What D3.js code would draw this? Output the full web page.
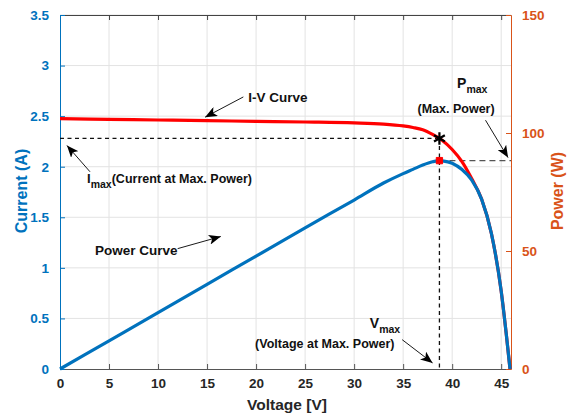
<!DOCTYPE html>
<html><head><meta charset="utf-8">
<script src="https://cdn.jsdelivr.net/npm/d3@7"></script>
<style>
body{margin:0;background:#fff;}
text{font-family:"Liberation Sans",Arial,sans-serif;font-weight:bold;}
</style></head>
<body><svg id="c" width="573" height="418"></svg>
<script>
// ---- data ----
const voltage = [0,5,10,15,20,25,30,33,35,36,37,38,38.7,39,40,41,42,43,44,45,45.5,45.9];
const current = [2.475,2.468,2.462,2.455,2.449,2.442,2.433,2.421,2.403,2.388,2.366,2.32,2.28,2.26,2.17,2.05,1.88,1.68,1.34,0.77,0.36,0];
const power   = [0,11.95,23.9,35.9,47.8,59.8,71.6,78.8,82.8,84.6,86.4,87.8,88.3,88.2,87.2,84.5,80.0,72.0,57.5,33.0,15.5,0];
const xTicks = [0,5,10,15,20,25,30,35,40,45];
const yTicks = [0,0.5,1,1.5,2,2.5,3,3.5];
const y2Ticks = [0,50,100,150];
const vMax = 38.7, iMax = 2.28, pMax = 88.3;

const W=573,H=418, m={l:60,r:62,t:15,b:49};
const svg=d3.select("#c");
const x=d3.scaleLinear().domain([0,46]).range([m.l,W-m.r]);
const y=d3.scaleLinear().domain([0,3.5]).range([H-m.b,m.t]);
const y2=d3.scaleLinear().domain([0,150]).range([H-m.b,m.t]);
const blue="#0072BD", orange="#D95319";
const fmt=d3.format("~g");

// grid
const g=svg.append("g");
g.selectAll(".gx").data(xTicks.slice(1)).join("line")
  .attr("x1",d=>x(d)).attr("x2",d=>x(d)).attr("y1",y(0)).attr("y2",y(3.5))
  .attr("stroke","#e3e3e3").attr("stroke-width",1);
g.selectAll(".gy").data(yTicks.slice(1)).join("line")
  .attr("y1",d=>y(d)).attr("y2",d=>y(d)).attr("x1",x(0)).attr("x2",x(46))
  .attr("stroke","#e3e3e3").attr("stroke-width",1);

// axes
const ax=d3.axisBottom(x).tickValues(xTicks).tickFormat(fmt).tickSizeInner(-5).tickSizeOuter(0).tickPadding(9);
const axG=svg.append("g").attr("transform",`translate(0,${y(0)})`).call(ax);
axG.select(".domain").attr("stroke","#555");
axG.selectAll(".tick line").attr("stroke","#555");
axG.selectAll("text").attr("fill","#262626").attr("font-size",13.5);

const axT=d3.axisTop(x).tickValues(xTicks).tickSizeInner(-5).tickSizeOuter(0).tickFormat("");
const atG=svg.append("g").attr("transform",`translate(0,${y(3.5)})`).call(axT);
atG.select(".domain").attr("stroke","#444");
atG.selectAll(".tick line").attr("stroke","#444");

const ay=d3.axisLeft(y).tickValues(yTicks).tickFormat(fmt).tickSizeInner(-5).tickSizeOuter(0).tickPadding(11);
const ayG=svg.append("g").attr("transform",`translate(${x(0)},0)`).call(ay);
ayG.select(".domain").attr("stroke",blue);
ayG.selectAll(".tick line").attr("stroke",blue);
ayG.selectAll("text").attr("fill",blue).attr("font-size",13.5);

const ay2=d3.axisRight(y2).tickValues(y2Ticks).tickFormat(fmt).tickSizeInner(-5).tickSizeOuter(0).tickPadding(11);
const ay2G=svg.append("g").attr("transform",`translate(${x(46)},0)`).call(ay2);
ay2G.select(".domain").attr("stroke",orange);
ay2G.selectAll(".tick line").attr("stroke",orange);
ay2G.selectAll("text").attr("fill",orange).attr("font-size",13.5);

// axis titles
svg.append("text").attr("transform",`translate(27,191) rotate(-90)`).attr("text-anchor","middle")
  .attr("fill",blue).attr("font-size",16).text("Current (A)");
svg.append("text").attr("transform",`translate(563,191) rotate(-90)`).attr("text-anchor","middle")
  .attr("fill",orange).attr("font-size",16).text("Power (W)");
svg.append("text").attr("x",287).attr("y",410).attr("text-anchor","middle")
  .attr("fill","#262626").attr("font-size",15.5).text("Voltage [V]");

// dashed guides
svg.append("line").attr("x1",x(0)).attr("x2",x(vMax)).attr("y1",y(iMax)).attr("y2",y(iMax))
  .attr("stroke","#111").attr("stroke-width",1.3).attr("stroke-dasharray","4,3.5");
svg.append("line").attr("x1",x(vMax)).attr("x2",x(vMax)).attr("y1",y(iMax)).attr("y2",y(0))
  .attr("stroke","#111").attr("stroke-width",1.3).attr("stroke-dasharray","4,3.5");
svg.append("line").attr("x1",x(vMax)).attr("x2",x(46)).attr("y1",y2(pMax)).attr("y2",y2(pMax))
  .attr("stroke","#555").attr("stroke-width",1.1).attr("stroke-dasharray","6,4");

// curves
const pts=voltage.map((v,i)=>({v,i:current[i],p:power[i]}));
svg.append("path").datum(pts).attr("fill","none").attr("stroke","#ff0000").attr("stroke-width",3.2)
  .attr("d",d3.line().x(d=>x(d.v)).y(d=>y(d.i)).curve(d3.curveMonotoneX));
svg.append("path").datum(pts).attr("fill","none").attr("stroke",blue).attr("stroke-width",3.2)
  .attr("d",d3.line().x(d=>x(d.v)).y(d=>y2(d.p)).curve(d3.curveMonotoneX));

// markers
svg.append("path").attr("transform",`translate(${x(vMax)},${y(iMax)})`)
  .attr("d",d3.symbol().type(d3.symbolAsterisk).size(110)()).attr("stroke","#000").attr("stroke-width",2.2).attr("fill","none");
svg.append("path").attr("transform",`translate(${x(vMax)},${y2(pMax)})`)
  .attr("d",d3.symbol().type(d3.symbolSquare).size(40)()).attr("fill","#f00").attr("stroke","#f00").attr("stroke-width",1);

// arrows
const defs=svg.append("defs");
defs.append("marker").attr("id","ah").attr("viewBox","0 0 12 10").attr("refX",12).attr("refY",5)
  .attr("markerWidth",12).attr("markerHeight",10).attr("markerUnits","userSpaceOnUse").attr("orient","auto")
  .append("path").attr("d","M0,0 L12,5 L0,10 L3,5 Z").attr("fill","#000");
const arrows=[
  {from:[18.7,2.69],to:[14.8,2.49]},
  {from:[43.4,2.46],to:[45.7,2.09]},
  {from:[3.06,1.95],to:[0.71,2.21]},
  {from:[12.0,1.19],to:[16.4,1.31]},
  {from:[34.9,0.29],to:[38.0,0.06]}
];
svg.selectAll(".arr").data(arrows).join("line")
  .attr("x1",d=>x(d.from[0])).attr("y1",d=>y(d.from[1]))
  .attr("x2",d=>x(d.to[0])).attr("y2",d=>y(d.to[1]))
  .attr("stroke","#000").attr("stroke-width",0.9).attr("marker-end","url(#ah)");

// labels
function lab(vx,vy,txt,size,anchor){
  return svg.append("text").attr("x",x(vx)).attr("y",y(vy)).attr("font-size",size)
    .attr("text-anchor",anchor||"start").attr("fill","#111").text(txt);
}
lab(19.2,2.64,"I-V Curve",13.5);
lab(3.57,1.13,"Power Curve",13.5);
// Pmax
const tP=svg.append("text").attr("x",x(40.5)).attr("y",y(2.78)).attr("fill","#111").attr("font-size",14);
tP.append("tspan").text("P");
tP.append("tspan").attr("dy",5).attr("font-size",10.5).text("max");
lab(40.4,2.53,"(Max. Power)",12.5,"middle");
// Imax
const tI=svg.append("text").attr("x",x(2.76)).attr("y",y(1.84)).attr("fill","#111").attr("font-size",13);
tI.append("tspan").text("I");
tI.append("tspan").attr("dy",5).attr("font-size",10.5).text("max");
tI.append("tspan").attr("dy",-5).attr("font-size",12.5).text("(Current at Max. Power)");
// Vmax
const tV=svg.append("text").attr("x",x(31.6)).attr("y",y(0.405)).attr("fill","#111").attr("font-size",14);
tV.append("tspan").text("V");
tV.append("tspan").attr("dy",5).attr("font-size",10.5).text("max");
lab(19.9,0.21,"(Voltage at Max. Power)",12.5);
</script></body></html>
